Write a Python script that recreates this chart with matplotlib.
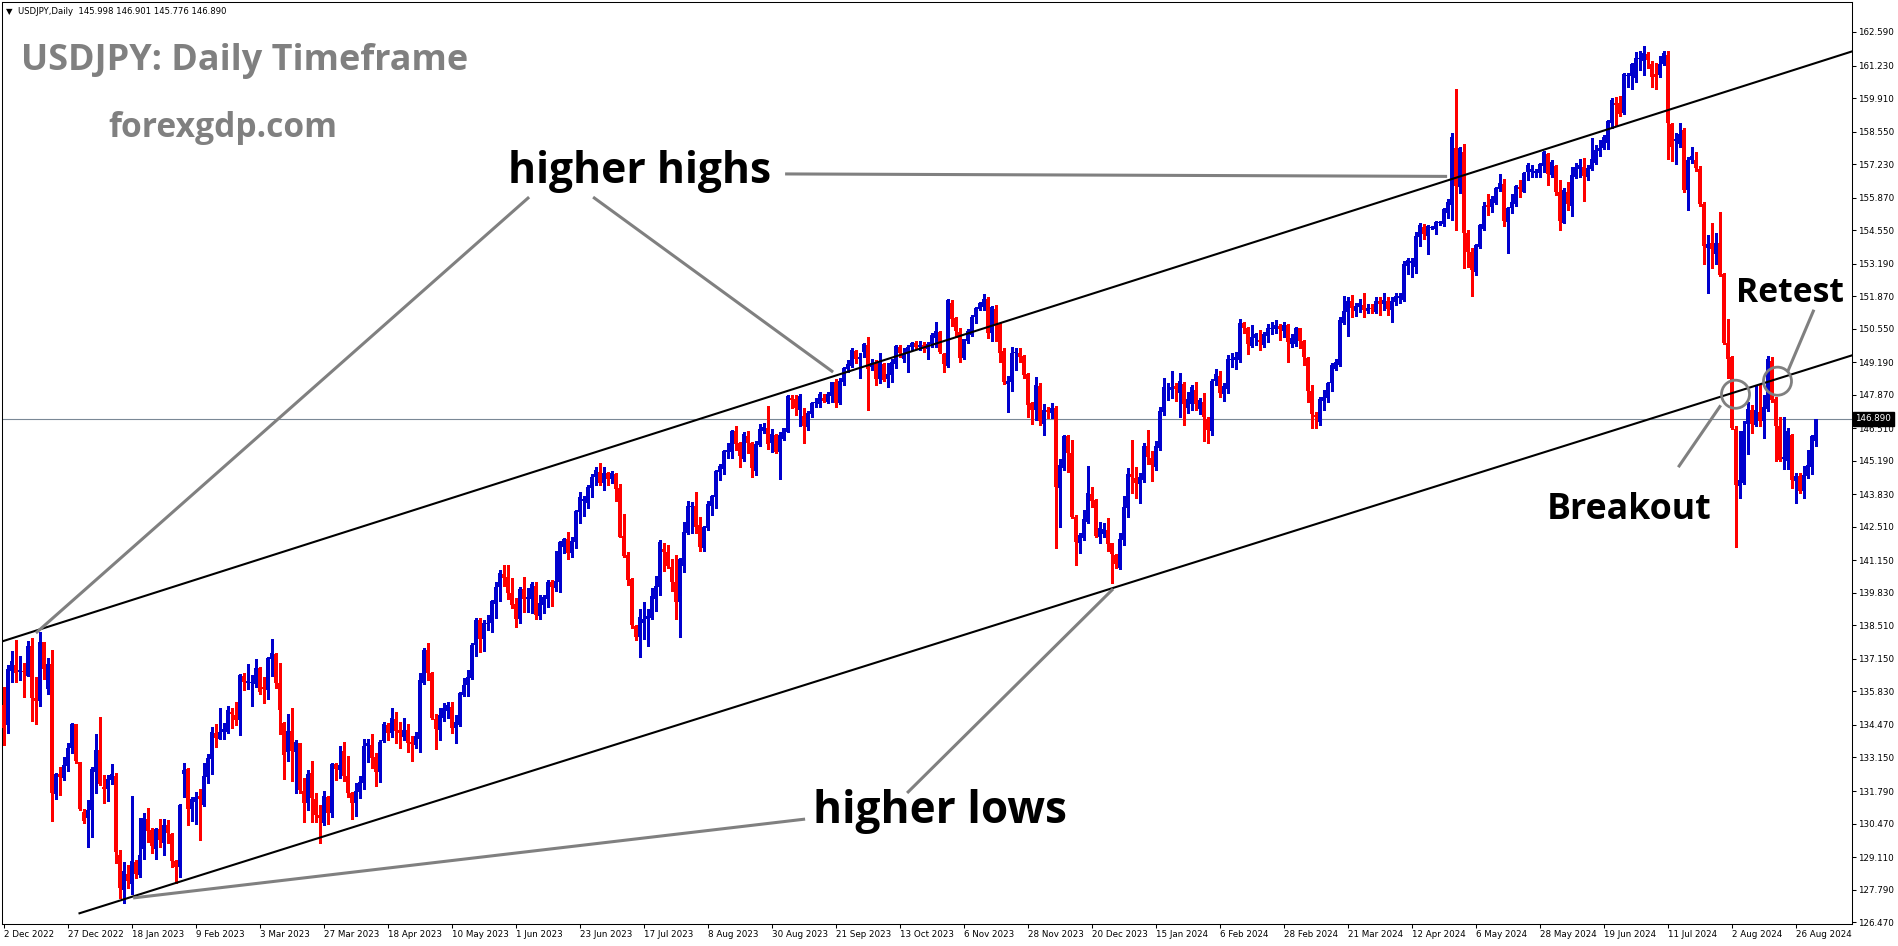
import numpy as np
import matplotlib
matplotlib.use("Agg")
import matplotlib.pyplot as plt
import matplotlib.transforms as mtransforms
from matplotlib.patches import Ellipse

# USDJPY daily candles, 2 Dec 2022 .. 2 Sep 2024
opens = [
    135.28, 134.46, 136.67, 136.90, 136.63, 136.67, 136.45, 137.67, 135.57, 135.45,
    137.82, 135.93, 136.94, 131.66, 132.50, 132.33, 132.81, 133.52, 134.50, 132.98,
    130.92, 130.70, 131.01, 132.57, 133.45, 131.96, 131.87, 132.23, 132.39, 129.19,
    127.77, 128.44, 128.01, 128.89, 128.38, 129.43, 130.64, 130.20, 129.42, 130.23,
    129.69, 130.41, 130.04, 128.94, 128.69, 132.46, 132.68, 131.04, 131.35, 131.58,
    131.22, 132.37, 133.08, 134.15, 133.92, 134.17, 134.19, 135.00, 134.87, 134.67,
    136.46, 136.16, 136.19, 136.13, 136.77, 136.00, 135.89, 137.16, 137.35, 136.16,
    134.54, 133.39, 134.23, 133.39, 133.72, 131.79, 131.32, 132.51, 131.45, 130.82,
    130.51, 131.56, 130.88, 132.87, 132.64, 133.43, 132.40, 131.72, 131.32, 131.76,
    132.13, 133.60, 133.66, 133.16, 132.58, 133.83, 134.47, 134.13, 134.70, 134.27,
    134.00, 134.27, 133.77, 133.66, 133.90, 136.16, 137.51, 136.59, 134.71, 134.27,
    134.77, 135.05, 135.19, 134.33, 134.47, 135.70, 136.09, 136.39, 137.71, 138.73,
    137.96, 138.57, 138.59, 139.38, 140.05, 140.58, 140.46, 139.81, 139.38, 138.77,
    139.97, 139.59, 139.60, 140.11, 138.89, 139.34, 139.58, 140.26, 140.01, 140.28,
    141.71, 142.00, 141.46, 141.88, 143.10, 143.57, 143.49, 144.10, 144.55, 144.72,
    144.28, 144.68, 144.45, 144.64, 144.07, 142.14, 141.37, 140.38, 138.49, 138.05,
    138.62, 138.75, 138.82, 139.57, 140.08, 141.61, 141.50, 140.87, 140.26, 139.47,
    140.93, 142.27, 143.33, 143.35, 142.58, 141.66, 142.48, 143.36, 143.73, 144.74,
    144.85, 145.56, 145.53, 146.40, 145.90, 145.26, 146.21, 145.92, 144.78, 145.83,
    146.41, 146.50, 145.90, 146.23, 145.53, 146.06, 146.37, 147.75, 147.68, 147.27,
    147.00, 146.57, 147.09, 147.52, 147.49, 147.75, 147.59, 147.82, 148.37, 147.52,
    148.40, 148.91, 149.03, 149.64, 149.30, 149.61, 149.89, 148.98, 149.14, 148.49,
    149.11, 148.49, 148.69, 149.11, 149.82, 149.34, 149.55, 149.79, 149.95, 149.79,
    149.89, 149.72, 149.93, 150.19, 150.43, 149.51, 149.04, 151.61, 150.97, 150.40,
    149.35, 150.07, 150.30, 151.01, 151.34, 151.45, 151.74, 150.36, 151.35, 150.77,
    149.66, 148.31, 148.40, 149.55, 149.55, 149.44, 148.71, 147.52, 147.25, 148.23,
    146.68, 147.25, 147.14, 147.33, 144.07, 144.88, 146.20, 145.49, 142.92, 141.87,
    142.04, 142.72, 143.84, 143.60, 142.11, 142.22, 142.38, 141.84, 141.37, 140.83,
    141.97, 143.29, 144.65, 144.50, 144.25, 144.41, 145.79, 145.30, 144.95, 145.69,
    147.18, 148.13, 148.05, 148.22, 147.95, 148.30, 147.35, 147.51, 148.08, 147.29,
    147.58, 146.90, 146.40, 148.43, 148.62, 147.92, 148.10, 149.28, 149.28, 149.28,
    150.79, 150.56, 149.84, 150.18, 150.09, 149.88, 150.27, 150.52, 150.52, 150.67,
    150.46, 150.69, 149.92, 149.92, 150.56, 150.04, 149.37, 148.02, 147.04, 146.77,
    147.62, 147.72, 148.33, 148.93, 149.07, 150.79, 151.23, 151.67, 151.27, 151.44,
    151.53, 151.28, 151.37, 151.24, 151.68, 151.55, 151.68, 151.30, 151.64, 151.80,
    151.71, 153.11, 153.23, 153.06, 154.28, 154.69, 154.31, 154.65, 154.58, 154.82,
    154.80, 155.23, 155.57, 157.89, 156.31, 157.72, 154.45, 153.67, 152.86, 153.88,
    154.58, 155.57, 155.50, 155.66, 156.20, 156.42, 154.89, 155.43, 155.63, 156.28,
    156.11, 156.92, 156.92, 156.88, 156.88, 157.16, 157.64, 156.78, 157.15, 156.11,
    154.85, 156.11, 155.53, 156.69, 157.01, 157.12, 156.72, 157.01, 157.28, 157.75,
    157.89, 158.10, 158.90, 159.69, 159.69, 159.30, 160.80, 160.80, 160.74, 161.48,
    161.41, 161.69, 161.30, 160.88, 160.83, 161.30, 161.66, 158.87, 158.17, 158.06,
    158.62, 156.17, 157.39, 157.39, 157.05, 155.61, 153.84, 154.01, 153.59, 154.03,
    152.75, 149.95, 149.39, 146.46, 144.16, 144.29, 146.67, 147.26, 146.63, 147.16,
    146.81, 147.30, 149.25, 147.69, 146.60, 145.27, 145.20, 146.25, 144.36, 144.57,
    143.95, 144.57, 144.95, 145.998,
]
highs = [
    136.02, 136.90, 137.47, 137.90, 137.26, 136.97, 137.87, 137.98, 136.43, 138.25,
    137.85, 137.17, 137.51, 132.53, 132.77, 133.18, 133.72, 134.53, 134.50, 132.98,
    131.05, 131.42, 132.77, 134.10, 134.80, 132.43, 132.43, 132.88, 132.53, 129.39,
    128.92, 128.78, 131.58, 128.99, 130.68, 130.88, 131.11, 130.27, 130.27, 130.64,
    130.64, 130.61, 130.07, 128.99, 131.25, 132.93, 132.71, 131.56, 131.76, 131.89,
    132.91, 133.31, 134.40, 134.50, 135.17, 134.53, 135.24, 135.14, 135.41, 136.54,
    136.57, 136.95, 136.50, 137.13, 136.84, 136.40, 137.24, 137.96, 137.38, 137.00,
    134.60, 134.92, 135.15, 133.86, 133.75, 132.30, 132.64, 133.02, 131.70, 131.22,
    131.79, 131.59, 132.91, 132.94, 133.62, 133.79, 133.21, 131.76, 132.10, 132.40,
    133.90, 133.90, 134.09, 133.32, 133.86, 134.60, 134.54, 135.15, 134.98, 134.60,
    134.74, 134.51, 134.02, 134.20, 136.57, 137.61, 137.78, 136.63, 134.92, 135.17,
    135.35, 135.42, 135.42, 134.88, 135.80, 136.39, 136.70, 137.78, 138.80, 138.80,
    138.73, 138.93, 139.54, 140.28, 140.76, 140.96, 140.96, 140.42, 139.61, 140.05,
    140.49, 140.01, 140.28, 140.28, 139.74, 139.74, 140.35, 140.35, 141.53, 141.95,
    142.07, 142.31, 142.11, 143.19, 143.91, 143.76, 144.21, 144.65, 144.93, 145.09,
    144.93, 144.75, 144.78, 144.71, 144.25, 143.03, 141.48, 140.42, 138.53, 139.18,
    139.45, 139.16, 140.01, 140.53, 141.98, 141.87, 141.77, 141.20, 141.37, 141.25,
    142.72, 143.57, 143.53, 143.93, 142.92, 142.55, 143.57, 143.80, 144.81, 145.06,
    145.62, 145.92, 146.44, 146.60, 145.95, 146.34, 146.41, 145.96, 145.99, 146.68,
    146.73, 147.41, 146.46, 146.27, 146.34, 146.54, 147.86, 147.86, 147.86, 147.92,
    147.32, 147.21, 147.59, 147.72, 147.99, 147.92, 147.99, 148.40, 148.49, 148.53,
    149.01, 149.28, 149.78, 149.68, 149.57, 149.98, 150.22, 149.34, 149.28, 149.55,
    149.14, 149.14, 149.34, 149.89, 149.89, 149.75, 149.89, 150.02, 150.05, 150.06,
    150.02, 150.02, 150.39, 150.84, 150.47, 149.55, 151.74, 151.72, 151.01, 150.57,
    150.15, 150.53, 151.11, 151.45, 151.65, 151.96, 151.82, 151.47, 151.51, 150.80,
    149.76, 148.63, 149.79, 149.75, 149.75, 149.48, 148.74, 147.59, 148.58, 148.36,
    147.50, 147.39, 147.55, 147.40, 145.25, 146.24, 146.24, 146.03, 142.99, 142.27,
    143.19, 144.98, 144.11, 143.65, 142.72, 142.65, 142.85, 141.87, 141.42, 142.27,
    143.76, 144.88, 146.03, 144.95, 144.68, 145.90, 146.44, 145.57, 146.00, 147.38,
    148.56, 148.35, 148.83, 148.35, 148.76, 148.39, 147.97, 148.26, 148.39, 147.72,
    147.95, 146.97, 148.49, 148.93, 148.83, 148.33, 149.50, 149.57, 149.61, 150.94,
    150.83, 150.63, 150.69, 150.38, 150.49, 150.42, 150.73, 150.83, 150.90, 150.76,
    150.83, 150.75, 150.32, 150.63, 150.59, 150.11, 149.41, 148.26, 147.18, 147.78,
    148.08, 148.39, 149.14, 149.34, 151.03, 151.87, 151.84, 151.91, 151.60, 151.74,
    151.98, 151.57, 151.57, 151.85, 151.85, 151.98, 151.85, 151.85, 151.98, 151.98,
    153.31, 153.43, 153.40, 154.48, 154.85, 154.80, 154.76, 154.72, 154.93, 154.93,
    155.43, 155.80, 158.50, 160.26, 157.93, 158.04, 154.55, 153.81, 153.98, 154.80,
    155.70, 156.01, 155.93, 156.31, 156.81, 156.61, 155.50, 156.01, 156.38, 156.58,
    156.92, 157.29, 157.19, 157.05, 157.26, 157.77, 157.66, 157.39, 157.19, 156.58,
    156.24, 156.51, 157.12, 157.26, 157.42, 157.46, 157.19, 158.27, 158.00, 158.20,
    158.41, 159.01, 159.90, 159.95, 159.99, 160.92, 160.92, 161.34, 161.76, 161.83,
    162.04, 161.76, 161.41, 161.34, 161.62, 161.83, 161.80, 158.90, 158.48, 158.90,
    158.69, 157.53, 157.92, 157.71, 157.15, 155.68, 154.36, 154.82, 154.43, 155.29,
    152.82, 150.93, 149.45, 146.60, 146.39, 146.81, 147.58, 147.44, 148.28, 148.28,
    147.86, 149.46, 149.39, 147.79, 146.95, 146.95, 146.53, 146.29, 144.71, 144.71,
    144.99, 145.62, 146.25, 146.901,
]
lows = [
    133.65, 134.15, 136.22, 136.22, 136.29, 135.62, 136.45, 134.63, 134.50, 135.24,
    136.33, 135.72, 130.58, 131.46, 131.62, 132.23, 132.61, 133.32, 132.91, 131.01,
    130.50, 129.53, 129.93, 131.69, 132.03, 131.31, 131.39, 132.07, 128.85, 127.43,
    127.23, 127.84, 127.63, 128.24, 128.31, 129.05, 129.73, 129.26, 129.05, 129.53,
    129.19, 129.66, 128.71, 128.06, 128.31, 131.53, 130.43, 130.58, 130.47, 129.80,
    131.18, 132.10, 132.50, 133.58, 133.92, 133.92, 134.13, 134.33, 134.46, 134.06,
    135.89, 135.92, 135.24, 136.02, 135.73, 135.38, 135.51, 136.46, 135.96, 134.10,
    132.28, 133.02, 132.21, 131.72, 131.72, 130.55, 131.02, 130.55, 130.55, 129.67,
    130.41, 130.45, 130.75, 132.24, 132.31, 132.21, 131.53, 130.64, 130.79, 131.52,
    131.86, 132.98, 132.71, 132.01, 132.17, 133.77, 133.86, 134.00, 133.75, 133.55,
    133.86, 133.39, 133.02, 133.55, 133.36, 136.13, 136.30, 134.71, 133.50, 133.86,
    134.64, 134.74, 134.13, 133.75, 134.44, 135.65, 135.65, 136.32, 137.27, 137.44,
    137.48, 138.32, 138.26, 138.82, 139.51, 140.12, 139.58, 139.20, 138.46, 138.62,
    139.07, 139.07, 139.00, 138.77, 138.77, 139.03, 139.27, 139.31, 139.92, 139.88,
    141.46, 141.20, 141.30, 141.64, 142.68, 142.95, 143.29, 143.73, 144.21, 144.21,
    144.00, 144.21, 144.30, 143.57, 142.08, 141.27, 140.15, 138.39, 137.92, 137.24,
    137.94, 137.69, 138.75, 139.11, 139.74, 140.73, 140.83, 139.92, 138.77, 138.05,
    140.66, 142.22, 142.24, 142.24, 141.54, 141.54, 142.40, 142.99, 143.28, 144.41,
    144.65, 145.29, 145.29, 145.62, 144.95, 145.19, 145.52, 144.54, 144.61, 145.79,
    146.30, 145.66, 145.56, 145.52, 144.47, 146.03, 146.34, 147.32, 147.05, 146.61,
    145.92, 146.44, 146.98, 147.38, 147.38, 147.59, 147.55, 147.59, 147.36, 147.49,
    148.26, 148.80, 148.98, 149.17, 148.53, 149.41, 147.27, 148.87, 148.26, 148.36,
    148.44, 148.20, 148.40, 148.94, 149.41, 149.21, 148.80, 149.68, 149.71, 149.68,
    149.62, 149.34, 149.80, 149.80, 149.55, 148.81, 149.01, 150.66, 150.23, 149.21,
    149.31, 149.96, 150.26, 150.80, 151.31, 151.31, 150.16, 150.07, 150.07, 149.21,
    148.30, 147.18, 148.04, 148.87, 149.21, 148.54, 146.98, 146.68, 146.85, 146.64,
    146.24, 146.91, 146.91, 141.64, 142.52, 144.82, 144.75, 142.85, 140.96, 141.43,
    141.97, 142.65, 143.30, 142.11, 141.84, 142.11, 141.54, 140.24, 140.83, 140.78,
    141.77, 142.90, 143.87, 143.67, 143.46, 144.34, 145.06, 144.35, 144.80, 145.62,
    147.04, 147.65, 147.72, 147.62, 146.97, 146.64, 147.11, 147.27, 147.24, 147.08,
    145.99, 145.92, 146.24, 148.26, 147.79, 147.62, 147.96, 149.00, 148.93, 149.20,
    150.36, 149.52, 149.80, 149.88, 149.68, 149.81, 150.02, 150.32, 150.36, 150.09,
    150.22, 149.21, 149.81, 149.84, 149.75, 149.07, 147.58, 146.50, 146.50, 146.64,
    147.24, 147.58, 148.03, 148.89, 149.03, 150.76, 150.25, 151.03, 151.06, 151.23,
    151.03, 151.17, 151.17, 151.20, 151.10, 151.31, 151.10, 150.82, 151.51, 151.60,
    151.68, 152.77, 152.63, 152.82, 153.90, 154.17, 153.58, 154.58, 154.39, 154.76,
    154.72, 155.03, 154.96, 154.55, 156.07, 153.02, 153.06, 151.89, 152.73, 153.81,
    154.55, 155.16, 155.30, 155.63, 156.15, 154.72, 153.63, 155.23, 155.53, 155.88,
    156.08, 156.58, 156.72, 156.69, 156.72, 156.92, 156.38, 156.72, 155.97, 154.55,
    154.82, 155.37, 155.13, 156.65, 156.72, 155.74, 156.58, 156.99, 157.23, 157.57,
    157.85, 157.85, 158.69, 158.76, 159.18, 159.25, 160.36, 160.29, 160.57, 161.06,
    160.85, 161.13, 160.36, 160.29, 160.78, 161.27, 157.43, 157.36, 157.22, 157.92,
    156.10, 155.38, 157.29, 156.94, 155.54, 153.17, 151.98, 153.03, 153.17, 152.68,
    149.93, 148.56, 146.46, 141.71, 143.67, 144.23, 145.48, 146.32, 146.60, 146.60,
    146.11, 147.23, 147.58, 145.20, 145.20, 144.85, 144.85, 144.08, 143.46, 143.87,
    143.69, 144.50, 144.64, 145.776,
]
closes = [
    134.33, 136.76, 137.06, 136.59, 136.70, 136.60, 137.67, 135.57, 135.45, 137.82,
    136.74, 136.94, 131.72, 132.50, 132.37, 132.84, 133.52, 134.50, 133.00, 131.05,
    130.58, 131.01, 132.68, 133.45, 132.07, 131.87, 132.27, 132.50, 129.32, 127.86,
    128.54, 128.15, 128.94, 128.44, 129.19, 130.68, 130.18, 129.57, 130.23, 129.80,
    130.43, 130.10, 128.96, 128.71, 131.22, 132.64, 131.05, 131.46, 131.53, 131.45,
    132.41, 133.11, 134.17, 133.95, 134.19, 134.30, 135.07, 134.91, 134.67, 136.50,
    136.23, 136.26, 136.23, 136.77, 135.80, 135.92, 137.20, 137.38, 136.16, 135.08,
    133.25, 134.23, 133.43, 133.77, 131.83, 131.32, 132.48, 131.52, 130.82, 130.71,
    131.59, 130.88, 132.89, 132.68, 132.85, 132.40, 131.72, 131.32, 131.80, 132.14,
    133.62, 133.75, 133.14, 132.58, 133.79, 134.51, 134.13, 134.74, 134.24, 134.13,
    134.27, 133.72, 133.68, 134.02, 136.30, 137.51, 136.57, 134.77, 134.30, 134.86,
    135.15, 135.28, 134.36, 134.58, 135.75, 136.09, 136.43, 137.71, 138.73, 137.96,
    138.59, 138.60, 139.50, 140.08, 140.65, 140.45, 139.81, 139.34, 138.78, 139.97,
    139.58, 139.65, 140.19, 138.93, 139.43, 139.65, 140.26, 140.08, 140.31, 141.91,
    142.00, 141.46, 141.95, 143.15, 143.73, 143.65, 144.14, 144.55, 144.82, 144.30,
    144.68, 144.45, 144.68, 144.05, 142.11, 141.33, 140.35, 138.53, 138.05, 138.84,
    138.77, 138.89, 139.70, 140.12, 141.88, 141.50, 140.93, 140.26, 139.47, 141.20,
    142.29, 143.36, 143.36, 142.51, 141.70, 142.51, 143.43, 143.77, 144.78, 144.97,
    145.58, 145.62, 146.40, 145.87, 145.38, 146.27, 145.90, 144.88, 145.87, 146.48,
    146.57, 145.87, 146.27, 145.56, 146.23, 146.50, 147.82, 147.65, 147.32, 147.82,
    146.61, 147.11, 147.55, 147.59, 147.92, 147.63, 147.90, 148.37, 147.55, 148.42,
    148.97, 149.10, 149.68, 149.34, 149.39, 149.93, 148.90, 149.14, 148.49, 149.21,
    148.46, 148.71, 149.21, 149.85, 149.55, 149.52, 149.82, 149.98, 149.82, 149.89,
    149.75, 149.93, 150.30, 150.46, 149.62, 149.11, 151.72, 150.93, 150.47, 149.38,
    150.12, 150.46, 151.04, 151.41, 151.58, 151.76, 150.39, 151.45, 150.70, 149.58,
    148.40, 148.44, 149.55, 149.62, 149.42, 148.67, 147.45, 147.25, 148.27, 146.81,
    147.25, 147.18, 147.33, 144.14, 145.02, 146.20, 145.49, 142.92, 141.91, 142.18,
    142.81, 143.90, 143.57, 142.14, 142.45, 142.42, 141.81, 141.41, 141.00, 142.00,
    143.30, 144.65, 144.52, 144.27, 144.52, 145.79, 145.33, 145.00, 145.78, 147.22,
    148.19, 148.16, 148.19, 148.11, 148.42, 147.51, 147.68, 148.19, 147.51, 147.65,
    146.97, 146.43, 148.43, 148.70, 147.95, 148.22, 149.34, 149.31, 149.41, 150.80,
    150.59, 149.92, 150.22, 150.32, 150.02, 150.33, 150.59, 150.58, 150.72, 150.52,
    150.72, 150.02, 150.18, 150.59, 150.04, 149.41, 148.02, 147.08, 146.95, 147.69,
    147.76, 148.35, 149.07, 149.20, 150.90, 151.26, 151.67, 151.41, 151.47, 151.60,
    151.30, 151.41, 151.34, 151.68, 151.55, 151.71, 151.33, 151.68, 151.87, 151.86,
    153.17, 153.34, 153.31, 154.31, 154.76, 154.39, 154.72, 154.69, 154.89, 154.89,
    155.41, 155.70, 158.34, 156.35, 157.87, 154.42, 153.67, 152.93, 153.94, 154.75,
    155.53, 155.50, 155.81, 156.24, 156.45, 154.93, 155.43, 155.68, 156.34, 156.20,
    156.85, 157.19, 157.01, 156.96, 157.22, 157.73, 156.82, 157.33, 156.11, 154.93,
    156.18, 155.61, 156.78, 157.12, 157.19, 156.74, 157.08, 157.42, 157.80, 157.89,
    158.31, 158.97, 159.83, 159.64, 159.25, 160.88, 160.85, 161.30, 161.52, 161.55,
    161.72, 161.44, 160.78, 160.78, 161.31, 161.72, 158.90, 157.92, 158.25, 158.45,
    156.17, 157.39, 157.56, 157.08, 155.61, 153.91, 153.98, 153.80, 154.03, 152.72,
    149.98, 149.32, 146.53, 144.20, 144.43, 146.39, 147.30, 146.67, 147.26, 146.81,
    147.37, 149.32, 147.65, 146.60, 145.23, 145.34, 146.39, 144.43, 144.57, 143.97,
    144.62, 145.03, 146.18, 146.890,
]

price_ticks = [162.59, 161.23, 159.91, 158.55, 157.23, 155.87, 154.55, 153.19,
               151.87, 150.55, 149.19, 147.87, 146.51, 145.19, 143.83, 142.51,
               141.15, 139.83, 138.51, 137.15, 135.83, 134.47, 133.15, 131.79,
               130.47, 129.11, 127.79, 126.47]
date_labels = ["2 Dec 2022", "27 Dec 2022", "18 Jan 2023", "9 Feb 2023", "3 Mar 2023",
               "27 Mar 2023", "18 Apr 2023", "10 May 2023", "1 Jun 2023", "23 Jun 2023",
               "17 Jul 2023", "8 Aug 2023", "30 Aug 2023", "21 Sep 2023", "13 Oct 2023",
               "6 Nov 2023", "28 Nov 2023", "20 Dec 2023", "15 Jan 2024", "6 Feb 2024",
               "28 Feb 2024", "21 Mar 2024", "12 Apr 2024", "6 May 2024", "28 May 2024",
               "19 Jun 2024", "11 Jul 2024", "2 Aug 2024", "26 Aug 2024"]
date_bars = [16 * k for k in range(len(date_labels))]
last_price = 146.890

# channel lines: two anchor points each (bar, price)
upper_anchor = ([7, 363], [138.24, 156.67])
lower_anchor = ([30, 277], [127.39, 140.01])
# grey pointer lines ((bar0, price0), (bar1, price1))
pointers = [((131.4, 155.89), (8.1, 138.20)),
            ((147.4, 155.89), (207.4, 148.79)),
            ((195.4, 156.83), (360.9, 156.73)),
            ((200.4, 130.65), (32.4, 127.45)),
            ((225.9, 131.71), (277.4, 139.99)),
            ((418.7, 144.93), (429.3, 147.44)),
            ((452.6, 151.32), (446.1, 148.83))]
circles = [(433.0, 147.89), (443.5, 148.42)]

W, H = 1898, 946
fig = plt.figure(figsize=(W / 100, H / 100), dpi=100)
ax = fig.add_axes([2 / W, (H - 924) / H, 1850 / W, 922 / H])
xmin, xmax = -0.375, 462.125
ax.set_xlim(xmin, xmax)
ax.set_ylim(126.393, 163.807)

o = np.array(opens); h = np.array(highs); l = np.array(lows); c = np.array(closes)
x = np.arange(len(o))
cols = np.where(c >= o, "#0000cd", "#ff0000")
ax.vlines(x, l, h, colors=cols, linewidth=0.75, antialiased=False, zorder=2)
ax.bar(x, np.maximum(np.abs(c - o), 0.03), bottom=np.minimum(o, c), width=0.75,
       color=cols, linewidth=0, antialiased=False, zorder=3)

ax.axhline(last_price, color="#7a8896", lw=0.8, zorder=1)


def extend(anchor, x0, x1):
    k = np.polyfit(anchor[0], anchor[1], 1)
    return [x0, x1], [np.polyval(k, x0), np.polyval(k, x1)]


ux, uy = extend(upper_anchor, -0.875, xmax)
lx, ly = extend(lower_anchor, 19, xmax)
ax.plot(ux, uy, color="black", lw=1.5, zorder=5, clip_on=True)
ax.plot(lx, ly, color="black", lw=1.5, zorder=5, clip_on=True)

for (p0, p1) in pointers:
    ax.plot([p0[0], p1[0]], [p0[1], p1[1]], color="#808080", lw=2.2,
            solid_capstyle="butt", zorder=6)
for cx, cy in circles:
    ax.add_patch(Ellipse((cx, cy), 7.0, 1.14, fill=False, ec="#808080", lw=2.0, zorder=6))

fig.canvas.draw()
rend = fig.canvas.get_renderer()


def fit(t, px):
    w = t.get_window_extent(rend).width
    t.set_fontsize(t.get_fontsize() * px / w)


# annotation texts: (text, bar, baseline price, width px, colour)
notes = [("USDJPY: Daily Timeframe", 4.4, 161.05, 447, "#808080"),
         ("forexgdp.com", 26.1, 158.33, 229, "#808080"),
         ("higher highs", 126.1, 156.46, 263, "black"),
         ("higher lows", 202.4, 130.49, 254, "black"),
         ("Breakout", 385.9, 142.83, 165, "black"),
         ("Retest", 433.1, 151.63, 108, "black")]
for s, bx, by, wpx, col in notes:
    t = ax.text(bx, by, s, fontsize=30, fontweight="bold", family="Open Sans",
                color=col, ha="left", va="baseline", zorder=8)
    fit(t, wpx)

head = fig.text(6 / W, 1 - 11 / H, "\u25bc  USDJPY,Daily  145.998 146.901 145.776 146.890",
                fontsize=7, ha="left", va="center", color="black")
fit(head, 220)

ax.yaxis.tick_right()
ax.set_yticks(price_ticks)
ax.set_yticklabels([f"{v:.3f}" for v in price_ticks])
ax.set_xticks(date_bars)
ax.set_xticklabels(date_labels)
for lab in ax.get_xticklabels():
    lab.set_horizontalalignment("left")
ax.tick_params(axis="both", length=3, width=0.75, labelsize=6.3, pad=1.5, colors="black")
for sp in ax.spines.values():
    sp.set_linewidth(0.75)
    sp.set_color("black")

tr = mtransforms.blended_transform_factory(ax.transAxes, ax.transData)
ax.text(1 + 3.5 / 1850, last_price, f"{last_price:.3f}", transform=tr, fontsize=6.3,
        color="white", ha="left", va="center", zorder=10, clip_on=False,
        bbox=dict(boxstyle="square,pad=0.25", fc="black", ec="black"))

fig.savefig("out.png", dpi=100)
